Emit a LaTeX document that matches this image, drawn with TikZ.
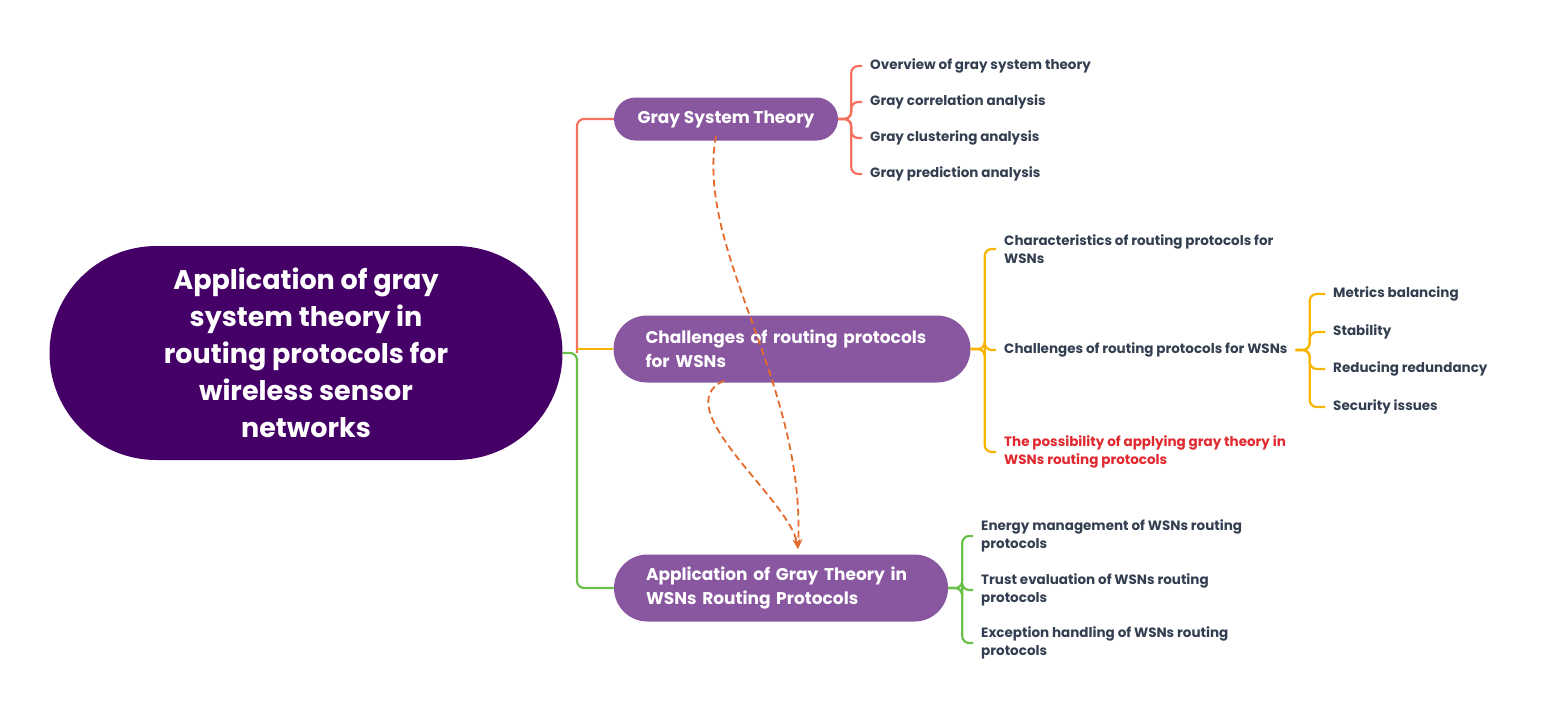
\documentclass[tikz,border=0pt]{standalone}
\usepackage{fontspec}
\setmainfont{Poppins}
\usetikzlibrary{arrows.meta}
\definecolor{rootc}{RGB}{69,0,104}
\definecolor{nodec}{RGB}{137,86,160}
\definecolor{redl}{RGB}{244,113,93}
\definecolor{yell}{RGB}{247,181,0}
\definecolor{grnl}{RGB}{107,192,75}
\definecolor{txt}{RGB}{51,63,80}
\definecolor{redt}{RGB}{224,40,46}
\definecolor{arrowc}{RGB}{229,107,43}
\tikzset{
  rootbox/.style={fill=rootc, text=white, rounded corners=107pt, minimum width=513pt,
    minimum height=214pt, align=center, font=\bfseries\fontsize{27}{37}\selectfont},
  topic/.style={fill=nodec, text=white, rounded corners=33.5pt, inner xsep=32pt,
    minimum height=67pt, font=\bfseries\fontsize{17}{24}\selectfont},
  leaf/.style={anchor=west, inner xsep=8pt, inner ysep=0pt, align=left, text=txt,
    font=\bfseries\fontsize{13.5}{18}\selectfont},
  brace/.style={line width=2.2pt, rounded corners=7pt},
  link/.style={arrowc, line width=1.8pt, dash pattern=on 7pt off 4pt,
    -{Stealth[length=10pt,width=8pt]}}
}
\begin{document}
\begin{tikzpicture}[x=1pt,y=-1pt]
\useasboundingbox (0,0) rectangle (1546,716);
% main topic and its branches
\node[rootbox] (root) at (306,353) {Application of gray\\system theory in\\routing protocols for\\wireless sensor\\networks};
\node[topic, inner xsep=10pt, minimum width=224pt, minimum height=43pt, rounded corners=21.5pt] (gst) at (726,119) {Gray System Theory};
\node[topic, text width=293pt, align=left] (chal) at (792,349) {Challenges of routing protocols\\for WSNs};
\node[topic, text width=270pt, align=left] (app) at (781,588) {Application of Gray Theory in\\WSNs Routing Protocols};
\coordinate (trunk) at (577,353);
\draw[brace, grnl] (root.east) -- (trunk) |- (app.west);
\draw[brace, redl] (trunk) |- (gst.west);
\draw[brace, yell] (trunk|-chal.west) -- (chal.west);

% gray system theory
\node[leaf] (g1) at (862,66) {Overview of gray system theory};
\node[leaf] (g2) at (862,102) {Gray correlation analysis};
\node[leaf] (g3) at (862,138) {Gray clustering analysis};
\node[leaf] (g4) at (862,174) {Gray prediction analysis};
\foreach \n in {g1,g2,g3,g4}{
  \draw[brace, redl] (gst.east) -- ++(13,0) |- (\n.west);
}

% challenges
\node[leaf] (c1) at (996,249) {Characteristics of routing protocols for\\WSNs};
\node[leaf] (c2) at (996,350) {Challenges of routing protocols for WSNs};
\node[leaf, text=redt] (c3) at (996,452) {The possibility of applying gray theory in\\WSNs routing protocols};
\foreach \n in {c1,c2,c3}{
  \draw[brace, yell] (chal.east) -- ++(14,0) |- (\n.west);
}
\node[leaf] (s1) at (1325,294) {Metrics balancing};
\node[leaf] (s2) at (1325,332) {Stability};
\node[leaf] (s3) at (1325,369) {Reducing redundancy};
\node[leaf] (s4) at (1325,407) {Security issues};
\foreach \n in {s1,s2,s3,s4}{
  \draw[brace, yell] (c2.east) -- ++(14,0) |- (\n.west);
}

% application
\node[leaf] (a1) at (973,536) {Energy management of WSNs routing\\protocols};
\node[leaf] (a2) at (973,590) {Trust evaluation of WSNs routing\\protocols};
\node[leaf] (a3) at (973,643) {Exception handling of WSNs routing\\protocols};
\foreach \n in {a1,a2,a3}{
  \draw[brace, grnl] (app.east) -- ++(14,0) |- (\n.west);
}

% relations
\coordinate (hit) at (798,549);
\draw[link] ([xshift=-10pt,yshift=5pt]gst.south) .. controls +(-21,115) and +(7,-169) .. (hit);
\draw[link] ([xshift=-68pt,yshift=2pt]chal.south) .. controls +(-59,26) and +(-8,-49) .. (hit);
\end{tikzpicture}
\end{document}
